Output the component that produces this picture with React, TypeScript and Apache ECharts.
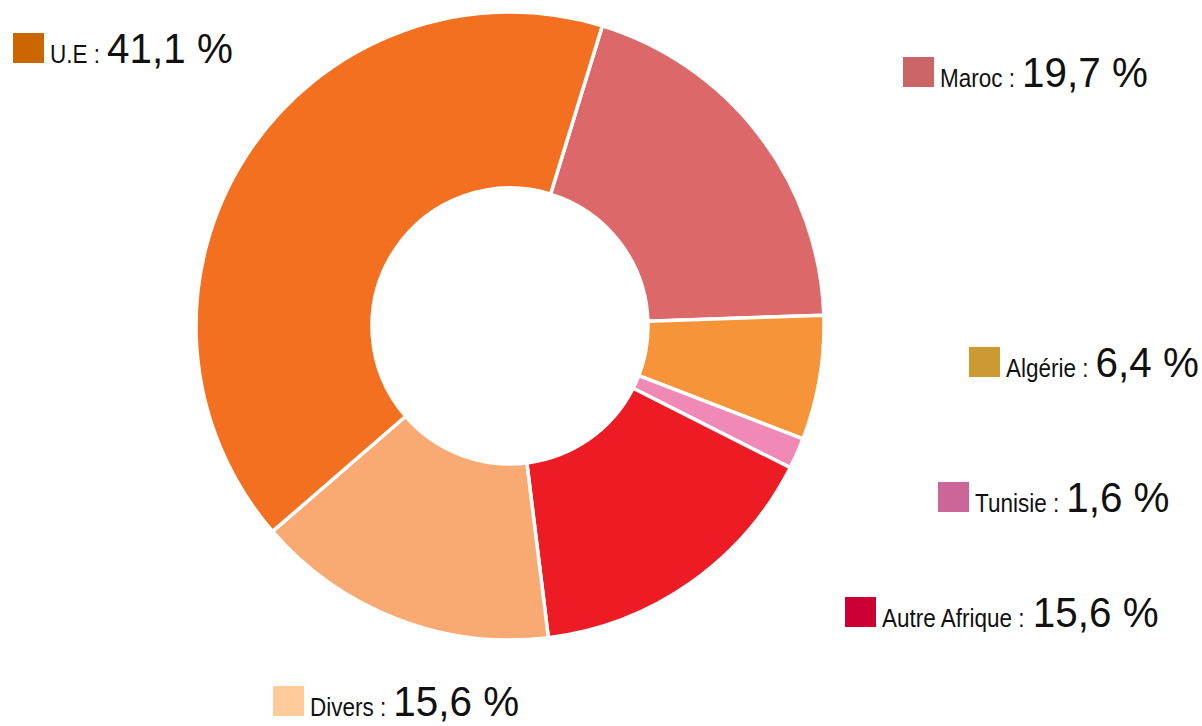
import React, { useEffect, useRef } from "react";
import * as echarts from "echarts";

const categories = ["Maroc", "Algérie", "Tunisie", "Autre Afrique", "Divers", "U.E"];
const values = [19.7, 6.4, 1.6, 15.6, 15.6, 41.1];
const valueLabels = ["19,7 %", "6,4 %", "1,6 %", "15,6 %", "15,6 %", "41,1 %"];
const sliceColors = ["#DD6869", "#F7943A", "#F189B6", "#ED1C24", "#F9AA72", "#F37021"];
const legendColors = ["#CC6666", "#CC9933", "#CC6699", "#CC0033", "#FFCC99", "#CC6600"];

// layout: top-left corner of each legend square
const legendPos: [number, number][] = [
  [903, 57],
  [969, 347],
  [938, 482],
  [845, 597],
  [273, 686],
  [13, 33],
];

const FONT_FAMILY = '"Liberation Sans", Arial, sans-serif';
const LABEL_SIZE = 25;
const LABEL_SCALE = 0.9;
const VALUE_SIZE = 43;
const VALUE_SCALE = 0.94;
const SQ_W = 31;
const SQ_H = 30;

function measure(text: string, size: number): number {
  const c = document.createElement("canvas");
  const ctx = c.getContext("2d");
  if (!ctx) return text.length * size * 0.5;
  ctx.font = `${size}px ${FONT_FAMILY}`;
  return ctx.measureText(text).width;
}

export default function App() {
  const ref = useRef<HTMLDivElement>(null);
  useEffect(() => {
    if (!ref.current) return;
    const chart = echarts.init(ref.current, undefined, { renderer: "svg" });

    const graphics: any[] = [];
    categories.forEach((name, i) => {
      const [sx, sy] = legendPos[i];
      const baseline = sy + SQ_H;
      const labelText = `${name} :`;
      const labelX = sx + SQ_W + 6;
      const labelW = measure(labelText, LABEL_SIZE) * LABEL_SCALE;
      const valueX = labelX + labelW + 7;
      graphics.push({
        type: "rect",
        shape: { x: sx, y: sy, width: SQ_W, height: SQ_H },
        style: { fill: legendColors[i] },
        silent: true,
      });
      graphics.push({
        type: "text",
        x: labelX,
        y: baseline - 0.3465 * LABEL_SIZE,
        scaleX: LABEL_SCALE,
        style: {
          text: labelText,
          font: `${LABEL_SIZE}px ${FONT_FAMILY}`,
          fill: "#111111",
          textAlign: "left",
          textVerticalAlign: "middle",
        },
        silent: true,
      });
      graphics.push({
        type: "text",
        x: valueX,
        y: baseline - 0.3465 * VALUE_SIZE,
        scaleX: VALUE_SCALE,
        style: {
          text: valueLabels[i],
          font: `${VALUE_SIZE}px ${FONT_FAMILY}`,
          fill: "#111111",
          textAlign: "left",
          textVerticalAlign: "middle",
        },
        silent: true,
      });
    });

    chart.setOption({
      animation: false,
      backgroundColor: "#ffffff",
      series: [
        {
          type: "pie",
          center: [510, 326],
          radius: [138, 314],
          startAngle: 72.9,
          clockwise: true,
          avoidLabelOverlap: false,
          label: { show: false },
          labelLine: { show: false },
          emphasis: { disabled: true },
          itemStyle: { borderColor: "#ffffff", borderWidth: 3.5 },
          data: categories.map((name, i) => ({
            name,
            value: values[i],
            itemStyle: { color: sliceColors[i] },
          })),
        },
      ],
      graphic: graphics,
    });

    return () => chart.dispose();
  }, []);

  return (
    <div
      ref={ref}
      style={{ position: "fixed", left: 0, top: 0, width: 1202, height: 726 }}
    />
  );
}
